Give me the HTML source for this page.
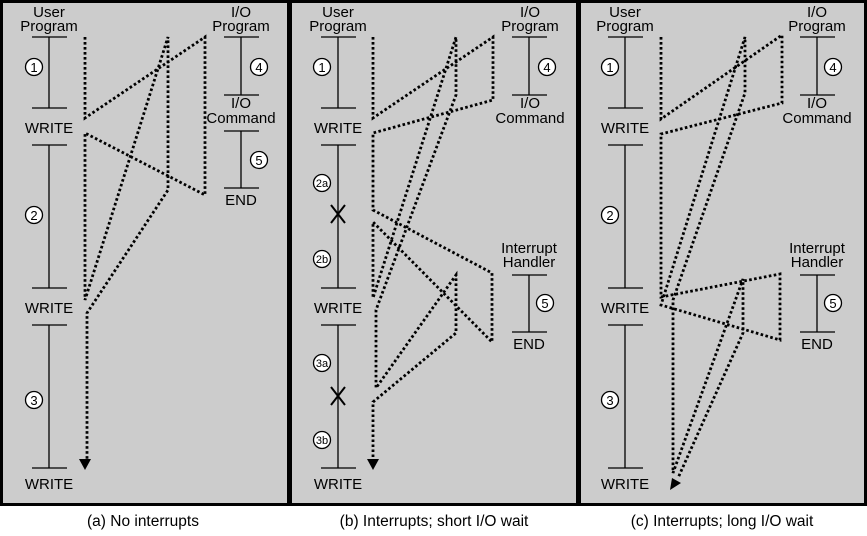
<!DOCTYPE html>
<html><head><meta charset="utf-8"><style>
html,body{margin:0;padding:0;background:#fff}
svg{display:block}
text{font-family:"Liberation Sans",Arial,sans-serif;fill:#000}
</style></head><body>
<svg width="867" height="536" viewBox="0 0 867 536" xmlns="http://www.w3.org/2000/svg">
<defs>
<g id="c"><circle r="8.5" fill="#fff" stroke="#000" stroke-width="1.3"/></g>
</defs>
<rect x="0" y="0" width="867" height="536" fill="#fff"/>
<g fill="#cccccc" stroke="#000" stroke-width="3">
<rect x="1.5" y="1.5" width="287" height="503"/>
<rect x="290.5" y="1.5" width="287" height="503"/>
<rect x="579.5" y="1.5" width="286" height="503"/>
</g>

<g font-size="15" text-anchor="middle">
<text x="49" y="17">User</text><text x="49" y="31">Program</text>
<text x="49" y="133">WRITE</text><text x="49" y="313">WRITE</text><text x="49" y="489">WRITE</text>
<text x="241" y="17">I/O</text><text x="241" y="31">Program</text>
<text x="241" y="108">I/O</text><text x="241" y="123">Command</text>
<text x="241" y="205">END</text>
<text x="338" y="17">User</text><text x="338" y="31">Program</text>
<text x="338" y="133">WRITE</text><text x="338" y="313">WRITE</text><text x="338" y="489">WRITE</text>
<text x="530" y="17">I/O</text><text x="530" y="31">Program</text>
<text x="530" y="108">I/O</text><text x="530" y="123">Command</text>
<text x="529" y="253">Interrupt</text><text x="529" y="267">Handler</text>
<text x="529" y="349">END</text>
<text x="625" y="17">User</text><text x="625" y="31">Program</text>
<text x="625" y="133">WRITE</text><text x="625" y="313">WRITE</text><text x="625" y="489">WRITE</text>
<text x="817" y="17">I/O</text><text x="817" y="31">Program</text>
<text x="817" y="108">I/O</text><text x="817" y="123">Command</text>
<text x="817" y="253">Interrupt</text><text x="817" y="267">Handler</text>
<text x="817" y="349">END</text>
</g>

<g stroke="#000" stroke-width="1.3" fill="none">
<path d="M49 37V108M32 37H67M32 108H67M49 145V288M32 145H67M32 288H67M49 325V468M32 325H67M32 468H67"/>
<path d="M241 37V95M224 37H259M224 95H259M241 131V188M224 131H259M224 188H259"/>
<path d="M338 37V108M321 37H356M321 108H356M338 145V288M321 145H356M321 288H356M338 325V468M321 325H356M321 468H356"/>
<path d="M529 37V95M512 37H547M512 95H547M529 275V332M512 275H547M512 332H547"/>
<path d="M331 205L345 223M345 205L331 223M331 387L345 405M345 387L331 405" stroke-width="2"/>
<path d="M625 37V108M608 37H643M608 108H643M625 145V288M608 145H643M608 288H643M625 325V468M608 325H643M608 468H643"/>
<path d="M817 37V95M800 37H835M800 95H835M817 275V332M800 275H835M800 332H835"/>
</g>

<g>
<use href="#c" x="34" y="67"/><use href="#c" x="34" y="215"/><use href="#c" x="34" y="400"/>
<use href="#c" x="259" y="67"/><use href="#c" x="259" y="160"/>
<use href="#c" x="322" y="67"/><use href="#c" x="322" y="183"/><use href="#c" x="322" y="259"/>
<use href="#c" x="322" y="363"/><use href="#c" x="322" y="440"/>
<use href="#c" x="547" y="67"/><use href="#c" x="545" y="303"/>
<use href="#c" x="610" y="67"/><use href="#c" x="610" y="215"/><use href="#c" x="610" y="400"/>
<use href="#c" x="833" y="67"/><use href="#c" x="833" y="303"/>
</g>
<g font-size="13" text-anchor="middle">
<text x="34" y="72">1</text><text x="34" y="220">2</text><text x="34" y="405">3</text>
<text x="259" y="72">4</text><text x="259" y="165">5</text>
<text x="322" y="72">1</text>
<text x="322" y="187" font-size="11">2a</text><text x="322" y="263" font-size="11">2b</text>
<text x="322" y="367" font-size="11">3a</text><text x="322" y="444" font-size="11">3b</text>
<text x="547" y="72">4</text><text x="545" y="308">5</text>
<text x="610" y="72">1</text><text x="610" y="220">2</text><text x="610" y="405">3</text>
<text x="833" y="72">4</text><text x="833" y="308">5</text>
</g>

<g fill="none" stroke="#000" stroke-width="2.8" stroke-dasharray="2.6 2.4">
<path d="M85 37V118L205 37V195L85 133V300L168 37V190L87 313V460"/>
<path d="M373 37V118L493 37V100L373 133V210L492 273V342L373 222V298L456 37V95L376 310V388L456 275V333L373 402V460"/>
<path d="M661 37V119L782 35V103L661 134V297L780 274V340L661 305L745 37V93L673 300V473L743 279V333L678 478"/>
</g>
<g fill="#000">
<polygon points="79,459 91,459 85,470"/>
<polygon points="367,459 379,459 373,470"/>
<polygon points="670,490 672,478 681,483"/>
</g>

<g font-size="15.5" text-anchor="middle">
<text x="143" y="526">(a) No interrupts</text>
<text x="434" y="526">(b) Interrupts; short I/O wait</text>
<text x="722" y="526">(c) Interrupts; long I/O wait</text>
</g>
</svg>
</body></html>
